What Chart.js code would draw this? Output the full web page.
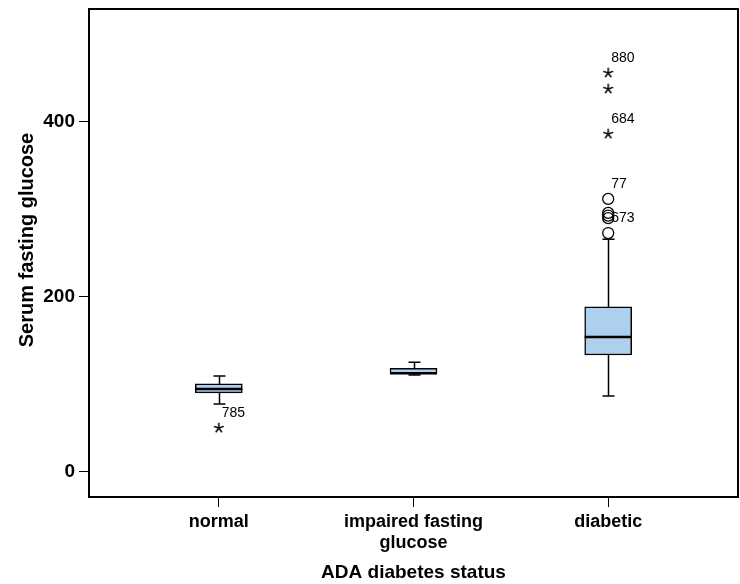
<!DOCTYPE html>
<html>
<head>
<meta charset="utf-8">
<script src="https://cdn.jsdelivr.net/npm/chart.js@4.4.1/dist/chart.umd.min.js"></script>
<style>
  html, body { margin: 0; padding: 0; background: #ffffff; }
  #wrap { width: 740px; height: 584px; }
</style>
</head>
<body>
<div id="wrap"><canvas id="c" width="740" height="584"></canvas></div>
<script>
// Group labels (second one wraps onto two lines)
const categories = ['normal', ['impaired fasting', 'glucose'], 'diabetic'];

// Box plot summaries per group (mg/dL)
const whiskerLow  = [77.7, 110.9, 86.9];
const quartile1   = [90.3, 112.0, 133.7];
const medians     = [94.9, 112.8, 154.3];
const quartile3   = [100.6, 118.5, 188.6];
const whiskerHigh = [109.7, 125.4, 266.0];

// Outliers (circles): group number, value, case id
const outlierGroup  = [3, 3, 3, 3, 3];
const outlierValues = [312, 296, 293, 290, 273];
const outlierIds    = ['77', '', '', '', '673'];

// Extreme values (stars): group number, value, case id
const extremeGroup  = [1, 3, 3, 3];
const extremeValues = [50.3, 456, 437.7, 386.3];
const extremeIds    = ['785', '880', '', '684'];

// Axis ticks and range
const yTicks = [0, 200, 400];
const yMin = -28.6;
const yMax = 529;

const yTitle = 'Serum fasting glucose';
const xTitle = 'ADA diabetes status';

const FONT = "'Liberation Sans', Arial, sans-serif";
const BOX_FILL = '#aed0ee';
const BOX_WIDTH = 47;
const CAP_HALF = 6;

// Asterisk marker used for extreme values
function makeStar() {
  const s = 14;
  const cv = document.createElement('canvas');
  cv.width = s; cv.height = s;
  const g = cv.getContext('2d');
  g.strokeStyle = '#000';
  g.lineWidth = 1.5;
  g.lineCap = 'butt';
  const c = s / 2, r = 5.2;
  for (let k = 0; k < 5; k++) {
    const a = -Math.PI / 2 + k * 2 * Math.PI / 5;
    g.beginPath();
    g.moveTo(c, c);
    g.lineTo(c + r * Math.cos(a), c + r * Math.sin(a));
    g.stroke();
  }
  return cv;
}
const starMarker = makeStar();

const boxData = categories.map((_, i) => ({ x: i + 1, y: [quartile1[i], quartile3[i]] }));
const outlierData = outlierValues.map((v, i) => ({ x: outlierGroup[i], y: v }));
const extremeData = extremeValues.map((v, i) => ({ x: extremeGroup[i], y: v }));

function noScalePadding(s) {
  s.paddingTop = 0; s.paddingBottom = 0; s.paddingLeft = 0; s.paddingRight = 0;
}

// Whiskers, caps, medians, case labels, y title and the plot frame
const boxplotParts = {
  id: 'boxplotParts',
  beforeDatasetsDraw(chart) {
    const { ctx, scales: { x, y } } = chart;
    ctx.save();
    ctx.strokeStyle = '#000';
    ctx.lineWidth = 1.5;
    categories.forEach((_, i) => {
      const px = Math.round(x.getPixelForValue(i + 1)) + 0.5;
      const segs = [[quartile3[i], whiskerHigh[i]], [quartile1[i], whiskerLow[i]]];
      segs.forEach(([from, to]) => {
        const y0 = y.getPixelForValue(from), y1 = y.getPixelForValue(to);
        ctx.beginPath();
        ctx.moveTo(px, y0); ctx.lineTo(px, y1);
        ctx.moveTo(px - CAP_HALF, y1); ctx.lineTo(px + CAP_HALF, y1);
        ctx.stroke();
      });
    });
    ctx.restore();
  },
  afterDatasetsDraw(chart) {
    const { ctx, scales: { x, y }, chartArea: a } = chart;
    ctx.save();
    ctx.strokeStyle = '#000';
    ctx.lineWidth = 2.5;
    categories.forEach((_, i) => {
      const px = x.getPixelForValue(i + 1);
      const py = y.getPixelForValue(medians[i]);
      ctx.beginPath();
      ctx.moveTo(px - BOX_WIDTH / 2, py); ctx.lineTo(px + BOX_WIDTH / 2, py);
      ctx.stroke();
    });
    ctx.fillStyle = '#000';
    ctx.font = '14px ' + FONT;
    ctx.textAlign = 'left';
    ctx.textBaseline = 'middle';
    const label = (g, v, id) => {
      if (!id) return;
      ctx.fillText(id, x.getPixelForValue(g) + 3, y.getPixelForValue(v) - 15);
    };
    outlierValues.forEach((v, i) => label(outlierGroup[i], v, outlierIds[i]));
    extremeValues.forEach((v, i) => label(extremeGroup[i], v, extremeIds[i]));
    ctx.lineWidth = 2;
    ctx.strokeRect(a.left, a.top, a.right - a.left, a.bottom - a.top);

    // vertical axis title
    ctx.translate(27, 240);
    ctx.rotate(-Math.PI / 2);
    ctx.textAlign = 'center';
    ctx.font = 'bold 20px ' + FONT;
    ctx.fillText(yTitle, 0, 0);
    ctx.restore();
  }
};

new Chart(document.getElementById('c'), {
  type: 'bar',
  data: {
    datasets: [
      {
        type: 'bar',
        data: boxData,
        backgroundColor: BOX_FILL,
        borderColor: '#000',
        borderWidth: 1.5,
        borderSkipped: false,
        barThickness: BOX_WIDTH,
        order: 2
      },
      {
        type: 'scatter',
        data: outlierData,
        pointStyle: 'circle',
        pointRadius: 5.5,
        pointBorderColor: '#000',
        pointBackgroundColor: 'rgba(0,0,0,0)',
        pointBorderWidth: 1.3,
        order: 1
      },
      {
        type: 'scatter',
        data: extremeData,
        pointStyle: starMarker,
        order: 1
      }
    ]
  },
  options: {
    responsive: false,
    devicePixelRatio: 1,
    animation: false,
    layout: { autoPadding: false, padding: { top: 9, right: 2, left: 0, bottom: 0 } },
    plugins: { legend: { display: false }, tooltip: { enabled: false } },
    scales: {
      x: {
        type: 'linear',
        min: 1 / 3,
        max: 11 / 3,
        offset: false,
        afterBuildTicks(s) { s.ticks = categories.map((_, i) => ({ value: i + 1 })); },
        afterFit(s) { s.height = 87; noScalePadding(s); },
        grid: { display: true, offset: false, drawOnChartArea: false, drawTicks: true, tickLength: 10, color: '#000', lineWidth: 1 },
        border: { display: false },
        ticks: {
          autoSkip: false, maxRotation: 0, padding: 5, color: '#000',
          font: { family: FONT, size: 18, weight: 'bold', lineHeight: 1.15 },
          callback: (v) => categories[v - 1]
        },
        title: {
          display: true, text: xTitle, color: '#000',
          font: { family: FONT, size: 19, weight: 'bold' },
          padding: { top: 0, bottom: 0 }
        }
      },
      y: {
        type: 'linear',
        min: yMin,
        max: yMax,
        afterBuildTicks(s) { s.ticks = yTicks.map(v => ({ value: v })); },
        afterFit(s) { s.width = 89; noScalePadding(s); },
        grid: { display: true, drawOnChartArea: false, drawTicks: true, tickLength: 10, color: '#000', lineWidth: 1 },
        border: { display: false },
        ticks: {
          padding: 4, color: '#000',
          font: { family: FONT, size: 19, weight: 'bold' }
        },
        title: { display: false }
      }
    }
  },
  plugins: [boxplotParts]
});
</script>
</body>
</html>
